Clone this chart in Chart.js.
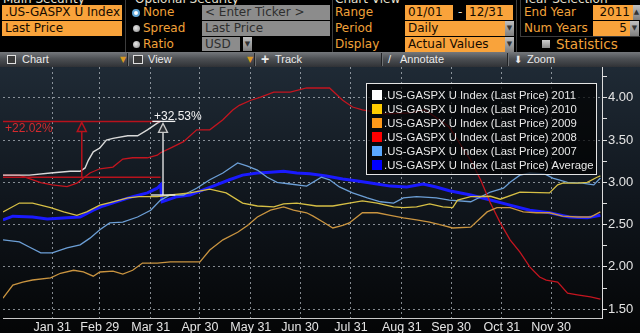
<!DOCTYPE html>
<html>
<head>
<meta charset="utf-8">
<script src="https://cdn.jsdelivr.net/npm/chart.js@4/dist/chart.umd.min.js"></script>
<style>
  html, body { margin: 0; padding: 0; background: #000; }
  body { width: 640px; height: 333px; overflow: hidden; position: relative; font-family: "DejaVu Sans", sans-serif; }
  .a { position: absolute; box-sizing: border-box; white-space: nowrap; }
  .t { color: #e6e0d2; font-size: 12px; line-height: 12px; top: -7px; }
  .o { background: #f9a33b; color: #150b00; font-size: 12px; line-height: 15px; height: 15px; padding-left: 3px; }
  .g { background: #8c8c8c; color: #2e2e2e; font-size: 12px; line-height: 15px; height: 15px; padding-left: 3px; }
  .l { color: #f2a23a; font-size: 12px; line-height: 15px; height: 15px; }
  .btn { background: linear-gradient(#c0c0c0, #7e7e7e); height: 15px; color: #333; font-size: 7px; line-height: 15px; text-align: center; }
  .fr { background: #3c3c3c; }
  .bar { left: 0; top: 52px; width: 640px; height: 15px; background: linear-gradient(#75787c, #4d5054 45%, #303236); }
  .tb { color: #ececec; font-family: "Liberation Sans", Arial, sans-serif; font-size: 11px; line-height: 15px; top: 52px; }
  .ar { color: #d99a22; font-size: 8px; line-height: 15px; top: 52px; }
  .sep { top: 53px; width: 2px; height: 13px; border-left: 1px solid #202225; border-right: 1px solid #6e7174; }
  .rad { width: 7px; height: 7px; border-radius: 50%; background: radial-gradient(circle at 40% 40%, #e8e8e8, #8a8a8a); }
  #c { position: absolute; left: 0; top: 67px; }
</style>
</head>
<body>
<!-- header panels -->
<div class="a t" style="left:3px">Main Security</div>
<div class="a t" style="left:135px">Optional Security</div>
<div class="a t" style="left:335px">Chart View</div>
<div class="a t" style="left:523px">Year Selection</div>

<div class="a o" style="left:2px;top:5px;width:120px">.US-GASPX U Index</div>
<div class="a o" style="left:2px;top:21px;width:120px">Last Price</div>
<div class="a fr" style="left:125px;top:0;width:1px;height:52px"></div>

<div class="a rad" style="left:132px;top:9px;background:#fff;border:2px solid #5fa6d8;width:8px;height:8px"></div>
<div class="a rad" style="left:133px;top:25px"></div>
<div class="a rad" style="left:133px;top:41px"></div>
<div class="a l" style="left:143px;top:5px">None</div>
<div class="a l" style="left:143px;top:21px">Spread</div>
<div class="a l" style="left:143px;top:37px">Ratio</div>
<div class="a g" style="left:202px;top:5px;width:128px">&lt; Enter Ticker &gt;</div>
<div class="a g" style="left:202px;top:21px;width:128px">Last Price</div>
<div class="a g" style="left:202px;top:37px;width:38px;height:14px;line-height:14px">USD</div>
<div class="a btn" style="left:243px;top:37px;width:9px;height:14px">&#9660;</div>
<div class="a fr" style="left:332px;top:0;width:1px;height:52px"></div>

<div class="a l" style="left:335px;top:5px">Range</div>
<div class="a l" style="left:335px;top:21px">Period</div>
<div class="a l" style="left:335px;top:37px">Display</div>
<div class="a o" style="left:405px;top:5px;width:48px">01/01</div>
<div class="a l" style="left:458px;top:5px;color:#e8e0d0">-</div>
<div class="a o" style="left:466px;top:5px;width:47px">12/31</div>
<div class="a o" style="left:405px;top:21px;width:100px">Daily</div>
<div class="a btn" style="left:505px;top:21px;width:9px">&#9660;</div>
<div class="a o" style="left:405px;top:37px;width:100px">Actual Values</div>
<div class="a btn" style="left:505px;top:37px;width:9px">&#9660;</div>
<div class="a fr" style="left:516px;top:0;width:1px;height:52px"></div>

<div class="a fr" style="left:520px;top:0;width:1px;height:37px"></div>
<div class="a fr" style="left:520px;top:36px;width:120px;height:1px"></div>
<div class="a l" style="left:524px;top:5px">End Year</div>
<div class="a l" style="left:524px;top:21px">Num Years</div>
<div class="a o" style="left:593px;top:5px;width:40px;text-align:right;padding-right:3px">2011</div>
<div class="a btn" style="left:633px;top:5px;width:7px">&#9650;</div>
<div class="a o" style="left:593px;top:21px;width:37px;text-align:right;padding-right:3px">5</div>
<div class="a btn" style="left:630px;top:21px;width:9px">&#9660;</div>
<div class="a" style="left:542px;top:40px;width:8px;height:8px;background:linear-gradient(#d0d0d0,#8a8a8a)"></div>
<div class="a l" style="left:556px;top:37px;font-size:13.5px">Statistics</div>

<!-- toolbar -->
<div class="a bar"></div>
<div class="a" style="left:7px;top:55px;width:9px;height:9px;border:1px solid #e0e0e0;background:#3a3a3a"></div>
<div class="a tb" style="left:22px">Chart</div>
<div class="a ar" style="left:120px">&#9660;</div>
<div class="a sep" style="left:127px"></div>
<div class="a" style="left:133px;top:55px;width:10px;height:9px;border:1px solid #e0e0e0;background:#3a3a3a"></div>
<div class="a tb" style="left:148px">View</div>
<div class="a ar" style="left:247px">&#9660;</div>
<div class="a sep" style="left:254px"></div>
<div class="a tb" style="left:261px;font-size:14px;font-weight:bold">+</div>
<div class="a tb" style="left:275px">Track</div>
<div class="a sep" style="left:381px"></div>
<div class="a tb" style="left:388px">/</div>
<div class="a tb" style="left:400px">Annotate</div>
<div class="a sep" style="left:507px"></div>
<div class="a tb" style="left:514px;font-size:10px">&#11015;</div>
<div class="a tb" style="left:527px">Zoom</div>

<canvas id="c" width="640" height="266"></canvas>

<script>
// x is day of year (0 = Jan 1), y is index level
const tickDays = [30, 59, 90, 120, 151, 181, 212, 243, 273, 304, 334];
const tickLabels = ['Jan 31', 'Feb 29', 'Mar 31', 'Apr 30', 'May 31', 'Jun 30',
                    'Jul 31', 'Aug 31', 'Sep 30', 'Oct 31', 'Nov 30'];
const yTickValues = [1.5, 1.75, 2, 2.25, 2.5, 2.75, 3, 3.25, 3.5, 3.75, 4, 4.25];
const yLabelValues = [1.5, 2, 2.5, 3, 3.5, 4];

const days2011 = [0, 16, 29, 41, 47, 50, 52, 55, 59, 63, 67, 76, 82, 88, 94, 96];
const vals2011 = [3.085, 3.085, 3.11, 3.13, 3.13, 3.17, 3.26, 3.36, 3.405, 3.50, 3.52, 3.55, 3.55, 3.62, 3.70, 3.72];

const days2010 = [0, 10, 18, 29, 37, 45, 51, 59, 67, 76, 83, 94, 102, 114, 126, 136, 146, 155, 165, 171,
                  179, 191, 201, 211, 219, 228, 238, 244, 252, 260, 268, 274, 277, 285, 297, 303, 315, 333, 338, 341,
                  350, 356, 362, 364];
const vals2010 = [2.65, 2.755, 2.755, 2.70, 2.65, 2.61, 2.65, 2.73, 2.77, 2.815, 2.83, 2.83, 2.85, 2.875, 2.92, 2.875, 2.755, 2.72, 2.71, 2.745,
                  2.755, 2.72, 2.72, 2.755, 2.78, 2.755, 2.71, 2.70, 2.71, 2.745, 2.71, 2.70, 2.79, 2.83, 2.835, 2.80, 2.885, 2.875, 2.97, 2.99,
                  2.99, 3.00, 3.06, 3.075];

const days2009 = [0, 6, 12, 18, 29, 35, 43, 49, 55, 59, 67, 73, 79, 85, 94, 102, 114, 120, 126, 134,
                  143, 149, 155, 163, 171, 177, 185, 189, 195, 201, 207, 211, 219, 228, 236, 244, 252, 260, 268, 274,
                  285, 295, 301, 309, 317, 325, 333, 341, 350, 358, 364];
const vals2009 = [1.63, 1.785, 1.82, 1.845, 1.87, 1.925, 1.96, 1.94, 1.89, 1.94, 1.95, 1.915, 1.96, 2.045, 2.045, 2.06, 2.06, 2.06, 2.20, 2.32,
                  2.41, 2.49, 2.59, 2.67, 2.71, 2.67, 2.64, 2.60, 2.53, 2.46, 2.49, 2.52, 2.64, 2.64, 2.61, 2.58, 2.555, 2.53, 2.49, 2.46,
                  2.47, 2.65, 2.70, 2.70, 2.65, 2.64, 2.64, 2.60, 2.59, 2.59, 2.65];

const days2008 = [0, 10, 23, 30, 39, 45, 49, 53, 59, 67, 73, 79, 88, 94, 96, 102, 110, 118, 126, 134,
                  140, 144, 151, 157, 165, 175, 185, 191, 199, 207, 213, 219, 233, 248, 257, 266, 272, 277, 285, 291,
                  297, 303, 309, 315, 321, 327, 331, 338, 344, 350, 358, 364];
const vals2008 = [3.085, 3.085, 2.995, 2.97, 2.95, 2.99, 3.05, 3.11, 3.16, 3.18, 3.275, 3.29, 3.29, 3.32, 3.35, 3.405, 3.48, 3.62, 3.62, 3.74,
                  3.855, 3.91, 3.97, 4.008, 4.067, 4.067, 4.115, 4.115, 4.115, 3.97, 3.89, 3.855, 3.81, 3.82, 3.855, 3.74, 3.65, 3.50, 3.26, 3.03,
                  2.755, 2.52, 2.32, 2.175, 2.00, 1.88, 1.845, 1.82, 1.69, 1.67, 1.645, 1.62];

const days2007 = [0, 10, 16, 23, 30, 39, 47, 53, 59, 65, 73, 82, 90, 96, 102, 110, 118, 126, 134, 143,
                  149, 155, 161, 167, 175, 185, 194, 199, 205, 213, 222, 230, 238, 244, 252, 264, 272, 285, 297, 305,
                  309, 315, 321, 330, 335, 344, 353, 360, 364];
const vals2007 = [2.32, 2.295, 2.235, 2.165, 2.165, 2.225, 2.26, 2.34, 2.44, 2.52, 2.53, 2.59, 2.67, 2.79, 2.85, 2.85, 2.93, 3.03, 3.11, 3.23,
                  3.19, 3.145, 3.06, 3.00, 2.98, 2.955, 3.06, 3.03, 2.945, 2.875, 2.815, 2.77, 2.755, 2.815, 2.83, 2.815, 2.79, 2.77, 2.885, 2.93,
                  3.00, 3.085, 3.11, 3.10, 3.05, 3.00, 2.99, 2.97, 3.05];

const daysAvg = [0, 6, 18, 27, 39, 47, 55, 61, 69, 79, 88, 94, 96, 97, 106, 114, 122, 130, 138, 146,
                 155, 163, 171, 179, 187, 197, 207, 216, 225, 236, 246, 256, 264, 272, 285, 297, 309, 321, 333, 345,
                 356, 364];
const valsAvg = [2.555, 2.60, 2.59, 2.565, 2.58, 2.59, 2.67, 2.72, 2.77, 2.83, 2.875, 2.93, 2.97, 2.77, 2.83, 2.85, 2.91, 2.97, 3.03, 3.085,
                 3.11, 3.12, 3.13, 3.11, 3.10, 3.075, 3.04, 3.015, 2.99, 2.955, 2.945, 2.98, 2.945, 2.90, 2.85, 2.79, 2.73, 2.67, 2.64, 2.59,
                 2.58, 2.61];

// the two measure annotations (day / level)
const redSpan = [0, 96];
const redAt = 48, redLow = 3.06, redHigh = 3.72, redText = '+22.02%';
const whiteAt = 97.5, whiteLow = 2.85, whiteHigh = 3.72, whiteText = '+32.53%';

const FONT = '"Liberation Sans", Arial, sans-serif';
Chart.defaults.font.family = FONT;

const series = [
  { label: '.US-GASPX U Index (Last Price) 2011', days: days2011, vals: vals2011, color: '#dadada', swatch: '#ffffff', width: 1.4 },
  { label: '.US-GASPX U Index (Last Price) 2010', days: days2010, vals: vals2010, color: '#d6bf45', swatch: '#ffcc00', width: 1.3 },
  { label: '.US-GASPX U Index (Last Price) 2009', days: days2009, vals: vals2009, color: '#c99440', swatch: '#ff9a1a', width: 1.3 },
  { label: '.US-GASPX U Index (Last Price) 2008', days: days2008, vals: vals2008, color: '#c4151f', swatch: '#ff0000', width: 1.3 },
  { label: '.US-GASPX U Index (Last Price) 2007', days: days2007, vals: vals2007, color: '#6c9fd6', swatch: '#5aa8ff', width: 1.3 },
  { label: '.US-GASPX U Index (Last Price) Average', days: daysAvg, vals: valsAvg, color: '#1a1aff', swatch: '#0000ff', width: 3 },
];

const pts = (days, vals) => days.map((d, i) => ({ x: d, y: vals[i] }));

const background = {
  id: 'background',
  beforeDraw(chart) {
    const { ctx, width, height } = chart;
    const g = ctx.createLinearGradient(0, 0, 0, height);
    g.addColorStop(0, '#1f2a35');
    g.addColorStop(0.5, '#10161d');
    g.addColorStop(1, '#040506');
    ctx.save();
    ctx.fillStyle = g;
    ctx.fillRect(0, 0, width, height);
    ctx.restore();
  }
};

const measure = {
  id: 'measure',
  afterDatasetsDraw(chart) {
    const { ctx, scales: { x, y } } = chart;
    const line = (x1, y1, x2, y2) => { ctx.beginPath(); ctx.moveTo(x1, y1); ctx.lineTo(x2, y2); ctx.stroke(); };
    ctx.save();

    // red: flat lines plus arrow
    const x0 = x.getPixelForValue(redSpan[0]), x1 = x.getPixelForValue(redSpan[1]);
    const rl = y.getPixelForValue(redLow), rh = y.getPixelForValue(redHigh);
    const ra = x.getPixelForValue(redAt);
    ctx.strokeStyle = '#b8121c';
    ctx.lineWidth = 1.5;
    line(x0, rh, x1, rh);
    line(x0, rl, x1, rl);
    line(ra, rl, ra, rh + 10);
    ctx.beginPath();
    ctx.moveTo(ra, rh + 1); ctx.lineTo(ra - 4.5, rh + 10); ctx.lineTo(ra + 4.5, rh + 10); ctx.closePath();
    ctx.stroke();
    ctx.fillStyle = '#d42a2e';
    ctx.font = '12px ' + FONT;
    ctx.textBaseline = 'middle';
    ctx.fillText(redText, x0 + 2, rh + 7);

    // white: arrow from low to high
    const wa = x.getPixelForValue(whiteAt);
    const wl = y.getPixelForValue(whiteLow), wh = y.getPixelForValue(whiteHigh);
    ctx.strokeStyle = '#f0f0f0';
    ctx.lineWidth = 1.3;
    line(x.getPixelForValue(91), wh, x.getPixelForValue(105), wh);
    line(x.getPixelForValue(90), wl, x.getPixelForValue(105), wl);
    line(wa, wl, wa, wh + 11);
    ctx.beginPath();
    ctx.moveTo(wa, wh + 2); ctx.lineTo(wa - 4.5, wh + 11); ctx.lineTo(wa + 4.5, wh + 11); ctx.closePath();
    ctx.fillStyle = '#2a2e33';
    ctx.fill();
    ctx.strokeStyle = '#c8c8c8';
    ctx.stroke();
    ctx.fillStyle = '#f4f4f4';
    ctx.fillText(whiteText, x.getPixelForValue(92), wh - 5);

    ctx.restore();
  }
};

const legendBox = {
  id: 'legendBox',
  afterDatasetsDraw(chart) {
    const { ctx, chartArea: a } = chart;
    const w = 231, h = 92;
    const bx = a.right - 236, by = a.top + 16;
    ctx.save();
    ctx.fillStyle = 'rgba(0,0,0,0.72)';
    ctx.fillRect(bx, by, w, h);
    ctx.strokeStyle = '#e4e4e4';
    ctx.lineWidth = 1;
    ctx.strokeRect(bx + 0.5, by + 0.5, w - 1, h - 1);
    ctx.font = '11.3px ' + FONT;
    ctx.textBaseline = 'middle';
    series.forEach((s, i) => {
      const cy = by + 12 + i * 14;
      ctx.fillStyle = s.swatch;
      ctx.fillRect(bx + 6, cy - 5, 10, 10);
      ctx.fillStyle = '#e8e8e8';
      ctx.fillText(s.label, bx + 18, cy + 0.5);
    });
    ctx.restore();
  }
};

const gridColor = 'rgba(185,192,200,0.7)';

new Chart(document.getElementById('c'), {
  type: 'line',
  data: {
    datasets: series.map(s => ({
      label: s.label,
      data: pts(s.days, s.vals),
      borderColor: s.color,
      borderWidth: s.width,
      pointRadius: 0,
      tension: 0,
      fill: false,
    })),
  },
  options: {
    responsive: false,
    animation: false,
    layout: { padding: { left: 3, top: 0, right: 0, bottom: 0 } },
    plugins: { legend: { display: false }, tooltip: { enabled: false } },
    scales: {
      x: {
        type: 'linear',
        min: 0,
        max: 365,
        afterBuildTicks: s => { s.ticks = tickDays.map(v => ({ value: v })); },
        afterFit: s => { s.height = 15; s.paddingLeft = 0; s.paddingRight = 0; },
        ticks: {
          callback: v => tickLabels[tickDays.indexOf(v)] ?? '',
          color: '#e4e4e4',
          font: { size: 12.5 },
          padding: 2,
          maxRotation: 0,
          autoSkip: false,
        },
        grid: { color: gridColor, drawTicks: false },
        border: { color: '#c8c8c8', width: 1, dash: [2, 3] },
      },
      y: {
        position: 'right',
        min: 1.396,
        max: 4.363,
        afterBuildTicks: s => { s.ticks = yTickValues.map(v => ({ value: v })); },
        afterFit: s => { s.width = 38; s.paddingTop = 0; s.paddingBottom = 0; },
        ticks: {
          callback: v => yLabelValues.includes(v) ? v.toFixed(2) : '',
          color: '#e4e4e4',
          font: { size: 13 },
          padding: 1,
          autoSkip: false,
        },
        grid: {
          color: c => yLabelValues.includes(c.tick && c.tick.value) ? gridColor : 'rgba(0,0,0,0)',
          tickColor: '#e0e0e0',
          tickLength: 5,
        },
        border: { color: '#dcdcdc', width: 1, dash: [2, 3] },
      },
    },
  },
  plugins: [background, measure, legendBox],
});
</script>
</body>
</html>
